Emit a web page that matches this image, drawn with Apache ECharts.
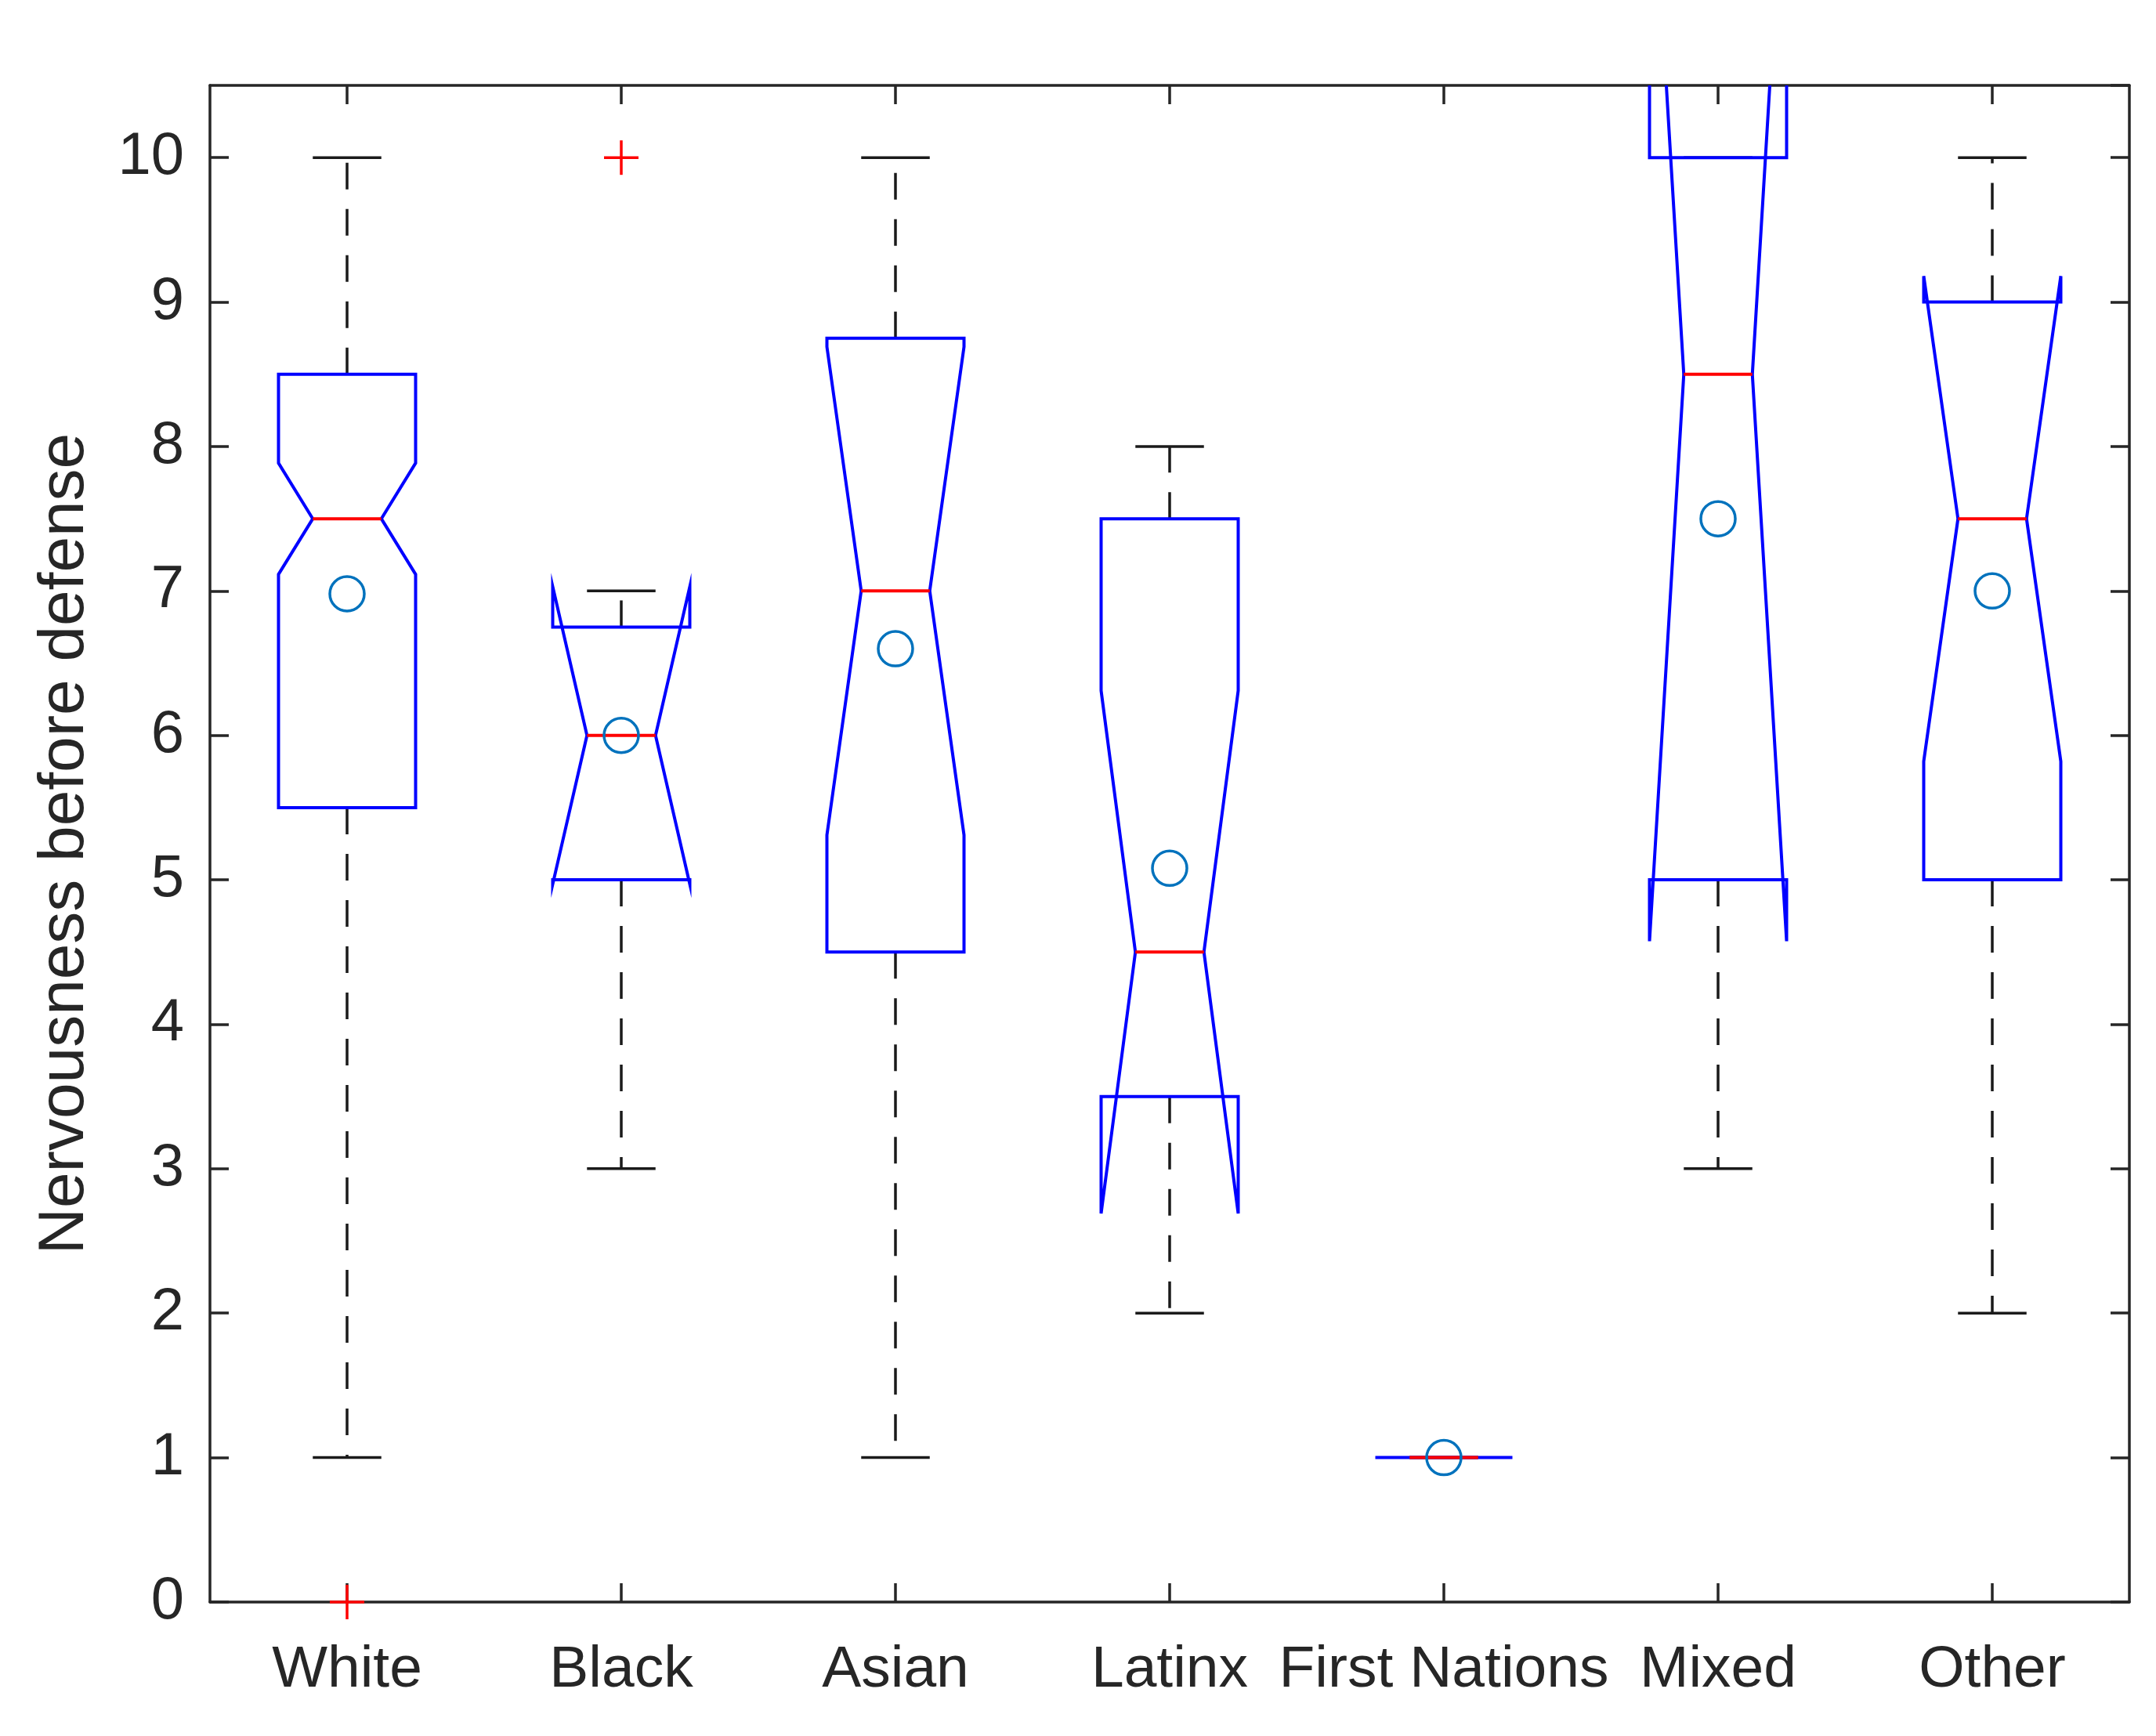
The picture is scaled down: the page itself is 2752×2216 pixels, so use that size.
<!DOCTYPE html>
<html><head><meta charset="utf-8">
<script src="https://cdn.jsdelivr.net/npm/echarts@6/dist/echarts.min.js"></script>
<style>html,body{margin:0;padding:0;background:#fff}#c{width:2752px;height:2216px}</style>
</head><body><div id="c"></div>
<script>
// ---- data ----
const categories = ['White', 'Black', 'Asian', 'Latinx', 'First Nations', 'Mixed', 'Other'];
const q1        = [5.5, 5.0, 4.5, 3.5, 1, 5.0, 5.0];
const medians   = [7.5, 6.0, 7.0, 4.5, 1, 8.5, 7.5];
const q3        = [8.5, 6.75, 8.75, 7.5, 1, 10.0, 9.0];
const notchLo   = [7.115, 4.97, 5.31, 2.69, 1, 4.575, 5.82];
const notchHi   = [7.885, 7.03, 8.69, 6.31, 1, 12.425, 9.18];
const whiskerLo = [1, 3, 1, 2, 1, 3, 2];
const whiskerHi = [10, 7, 10, 8, 1, 10, 10];
const means     = [6.98, 6.0, 6.6, 5.08, 1.0, 7.5, 7.0];
const outlierCategories = ['White', 'Black'];
const outlierValues     = [0, 10];
const yMin = 0, yMax = 10.5, yStep = 1;
const yTitle = 'Nervousness before defense';

// ---- styles ----
const TXT = '#262626';
const FONT = 'Liberation Sans, Arial, Helvetica, sans-serif';
const BLUE = '#0000ff', RED = '#ff0000', MEANC = '#0072BD';

const boxData = categories.map((c, i) => [i, q1[i], medians[i], q3[i], notchLo[i], notchHi[i], whiskerLo[i], whiskerHi[i]]);
const meanData = categories.map((c, i) => [i, means[i]]);
const outlierData = outlierCategories.map((c, k) => [categories.indexOf(c), outlierValues[k]]);

function renderBox(params, api) {
  const i = api.value(0);
  const Q1 = api.value(1), MED = api.value(2), Q3 = api.value(3);
  const NL = api.value(4), NH = api.value(5), WL = api.value(6), WH = api.value(7);
  const band = api.size([1, 0])[0];
  const hw = band * 0.25, nw = band * 0.125;
  const cx = api.coord([i, MED])[0];
  const Y = v => api.coord([i, v])[1];
  const ch = [];
  const dash = { stroke: '#1a1a1a', lineWidth: 3.5, lineDash: [34, 25], fill: null };
  const solid = { stroke: '#1a1a1a', lineWidth: 3.5, fill: null };
  ch.push({ type: 'line', shape: { x1: cx, y1: Y(Q3), x2: cx, y2: Y(WH) }, style: dash });
  ch.push({ type: 'line', shape: { x1: cx, y1: Y(Q1), x2: cx, y2: Y(WL) }, style: dash });
  ch.push({ type: 'line', shape: { x1: cx - nw, y1: Y(WH), x2: cx + nw, y2: Y(WH) }, style: solid });
  ch.push({ type: 'line', shape: { x1: cx - nw, y1: Y(WL), x2: cx + nw, y2: Y(WL) }, style: solid });
  const pts = [
    [cx - hw, Y(Q1)], [cx - hw, Y(NL)], [cx - nw, Y(MED)], [cx - hw, Y(NH)], [cx - hw, Y(Q3)],
    [cx + hw, Y(Q3)], [cx + hw, Y(NH)], [cx + nw, Y(MED)], [cx + hw, Y(NL)], [cx + hw, Y(Q1)]
  ];
  ch.push({ type: 'polygon', shape: { points: pts }, style: { fill: null, stroke: BLUE, lineWidth: 4 } });
  ch.push({ type: 'line', shape: { x1: cx - nw, y1: Y(MED), x2: cx + nw, y2: Y(MED) }, style: { stroke: RED, lineWidth: 4 } });
  return { type: 'group', children: ch };
}

function renderPlus(params, api) {
  const p = api.coord([api.value(0), api.value(1)]);
  const h = 22;
  const st = { stroke: RED, lineWidth: 3.5 };
  return { type: 'group', children: [
    { type: 'line', shape: { x1: p[0] - h, y1: p[1], x2: p[0] + h, y2: p[1] }, style: st },
    { type: 'line', shape: { x1: p[0], y1: p[1] - h, x2: p[0], y2: p[1] + h }, style: st }
  ] };
}

const axisLineStyle = { color: TXT, width: 3.5 };
const tickStyle = { color: TXT, width: 3.5 };

const chart = echarts.init(document.getElementById('c'), null, { renderer: 'canvas' });
chart.setOption({
  animation: false,
  backgroundColor: '#fff',
  grid: { left: 268, right: 34, top: 109, bottom: 171, containLabel: false },
  xAxis: [
    { type: 'category', data: categories, position: 'bottom', boundaryGap: true,
      axisLine: { show: true, lineStyle: axisLineStyle, onZero: false },
      axisTick: { show: true, inside: true, alignWithLabel: true, length: 24, lineStyle: tickStyle },
      axisLabel: { interval: 0, fontSize: 75, fontFamily: FONT, color: TXT, margin: 50 },
      splitLine: { show: false } },
    { type: 'category', data: categories, position: 'top', boundaryGap: true,
      axisLine: { show: true, lineStyle: axisLineStyle, onZero: false },
      axisTick: { show: true, inside: true, alignWithLabel: true, length: 24, lineStyle: tickStyle },
      axisLabel: { show: false }, splitLine: { show: false } }
  ],
  yAxis: [
    { type: 'value', min: yMin, max: yMax, interval: yStep, position: 'left',
      axisLine: { show: true, lineStyle: axisLineStyle, onZero: false },
      axisTick: { show: true, inside: true, length: 24, lineStyle: tickStyle },
      axisLabel: { fontSize: 76, fontFamily: FONT, color: TXT, margin: 33, showMaxLabel: false,
        formatter: v => (Number.isInteger(v) ? String(v) : '') },
      splitLine: { show: false },
      name: yTitle, nameLocation: 'middle', nameGap: 144,
      nameTextStyle: { fontSize: 82, fontFamily: FONT, color: TXT } },
    { type: 'value', min: yMin, max: yMax, interval: yStep, position: 'right',
      axisLine: { show: true, lineStyle: axisLineStyle, onZero: false },
      axisTick: { show: true, inside: true, length: 24, lineStyle: tickStyle },
      axisLabel: { show: false }, splitLine: { show: false } }
  ],
  series: [
    { type: 'custom', name: 'box', xAxisIndex: 0, yAxisIndex: 0, data: boxData, renderItem: renderBox, clip: true, z: 3 },
    { type: 'scatter', name: 'mean', xAxisIndex: 0, yAxisIndex: 0, data: meanData, symbol: 'circle', symbolSize: 44,
      itemStyle: { color: 'rgba(0,0,0,0)', borderColor: MEANC, borderWidth: 3.5, opacity: 1 }, z: 5 },
    { type: 'custom', name: 'outliers', xAxisIndex: 0, yAxisIndex: 0, data: outlierData, renderItem: renderPlus, clip: false, z: 10 }
  ]
});
</script>
</body></html>
